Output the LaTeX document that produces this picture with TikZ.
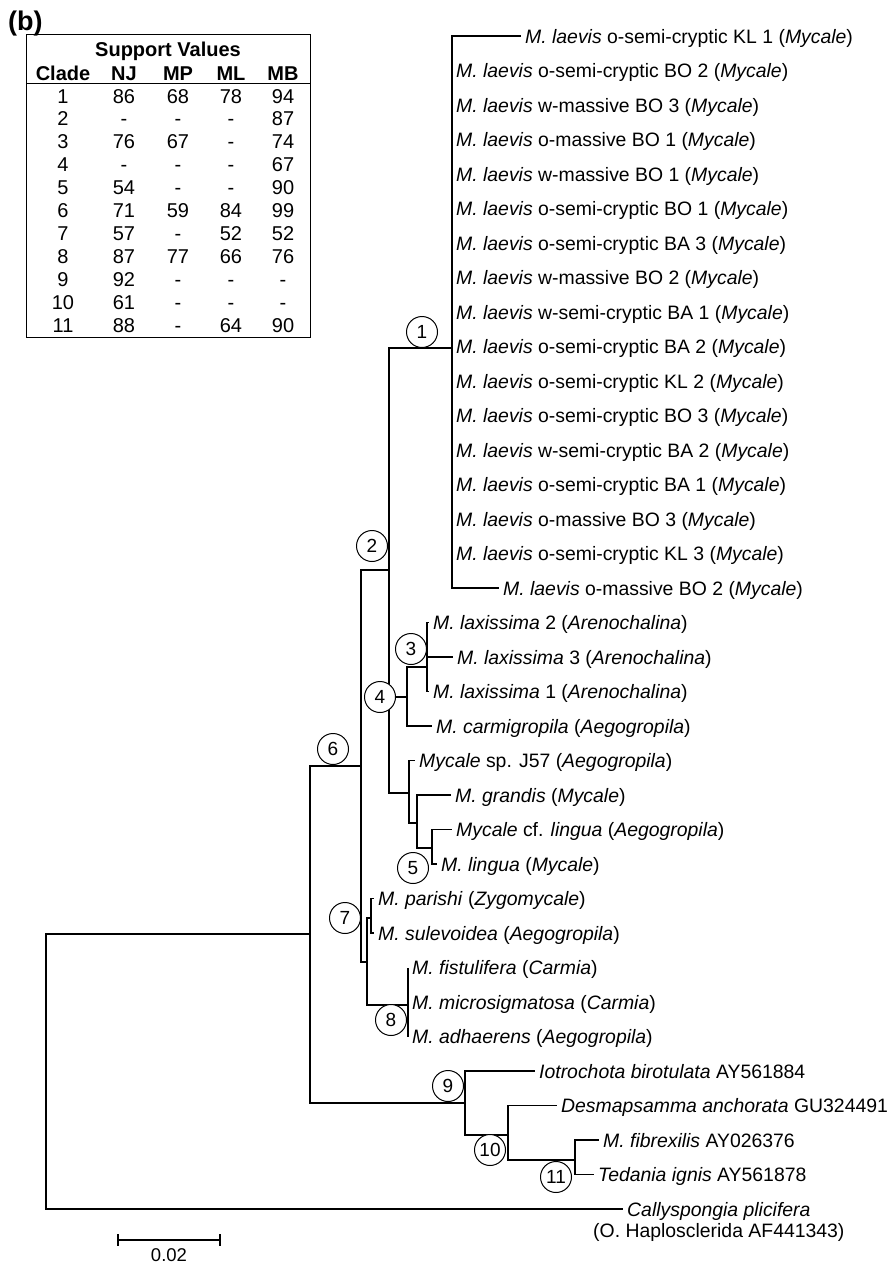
\documentclass[tikz,border=0pt]{standalone}
\usepackage{fontspec}
\setmainfont{Liberation Sans}
\usetikzlibrary{positioning}

\begin{document}
\begin{tikzpicture}[x=1pt, y=-1pt,
    branch/.style={line width=1.2pt},
    leaf/.style={anchor=west, inner xsep=4pt, inner ysep=0pt, text height=14pt, text depth=0pt, font=\fontsize{19.4}{23}\selectfont},
    clade/.style={circle, draw, fill=white, line width=1pt, minimum size=31pt, inner sep=0pt, font=\fontsize{19}{22}\selectfont},
    cell/.style={anchor=base, inner sep=0pt, font=\fontsize{20}{24}\selectfont},
    head/.style={cell, font=\fontsize{20}{24}\selectfont\bfseries}
]
\useasboundingbox (0,0) rectangle (890,1264);

% panel label and support table
\node[anchor=base west, inner sep=0pt, font=\fontsize{27}{30}\selectfont\bfseries] (panel) at (8,30) {(b)};
\node[draw, line width=1pt, anchor=north west, minimum width=284, minimum height=303, inner sep=0pt] (tbl) at (26,34) {};
\draw[line width=1pt] (tbl.west |- 0,83) -- (tbl.east |- 0,83);
\node[head] (title) at (168,56) {Support Values};
\node[head] (hclade) at (63,80) {Clade};
\node[head] (hnj) at (124,80) {NJ};
\node[head] (hmp) at (178,80) {MP};
\node[head] (hml) at (231,80) {ML};
\node[head] (hmb) at (283,80) {MB};
\foreach \c/\nj/\mp/\ml/\mb [count=\r from 0] in {1/86/68/78/94, 2/-/-/-/87, 3/76/67/-/74, 4/-/-/-/67, 5/54/-/-/90, 6/71/59/84/99, 7/57/-/52/52, 8/87/77/66/76, 9/92/-/-/-, 10/61/-/-/-, 11/88/-/64/90} {
  \node[cell] (c\c) at (63,{103+22.9*\r}) {\c};
  \node[cell] (nj\c) at (124,{103+22.9*\r}) {\nj};
  \node[cell] (mp\c) at (178,{103+22.9*\r}) {\mp};
  \node[cell] (ml\c) at (231,{103+22.9*\r}) {\ml};
  \node[cell] (mb\c) at (283,{103+22.9*\r}) {\mb};
}

% internal nodes of the tree
\coordinate (R) at (46,1070);
\coordinate (nA) at (310,934);
\coordinate (nB) at (361,766);
\coordinate (n2) at (389,570);
\coordinate (n1) at (452,348);
\coordinate (n4) at (407,697);
\coordinate (n3) at (427,667);
\coordinate (nD) at (409,793);
\coordinate (nE) at (417,823);
\coordinate (n5) at (432,848);
\coordinate (nC) at (367,962);
\coordinate (n7) at (371,918);
\coordinate (n8) at (408,1005);
\coordinate (n9) at (465,1103);
\coordinate (n10) at (508,1135);
\coordinate (n11) at (575,1160);

% clade 1
\foreach \k/\lab/\xe in {0/o-semi-cryptic KL 1/521, 1/o-semi-cryptic BO 2/452, 2/w-massive BO 3/452,
    3/o-massive BO 1/452, 4/w-massive BO 1/452, 5/o-semi-cryptic BO 1/452, 6/o-semi-cryptic BA 3/452,
    7/w-massive BO 2/452, 8/w-semi-cryptic BA 1/452, 9/o-semi-cryptic BA 2/452, 10/o-semi-cryptic KL 2/452,
    11/o-semi-cryptic BO 3/452, 12/w-semi-cryptic BA 2/452, 13/o-semi-cryptic BA 1/452, 14/o-massive BO 3/452,
    15/o-semi-cryptic KL 3/452, 16/o-massive BO 2/499} {
  \node[leaf] (lv\k) at (\xe,{36+34.5*\k}) {\textit{M. laevis} \lab{} (\textit{Mycale})};
  \draw[branch] (n1) |- (lv\k.west);
}

% other leaves
\node[leaf] (lax2) at (429,622.5) {\textit{M. laxissima} 2 (\textit{Arenochalina})};
\node[leaf] (lax3) at (453,657) {\textit{M. laxissima} 3 (\textit{Arenochalina})};
\node[leaf] (lax1) at (429,691.5) {\textit{M. laxissima} 1 (\textit{Arenochalina})};
\node[leaf] (carm) at (432,726) {\textit{M. carmigropila} (\textit{Aegogropila})};
\node[leaf] (j57) at (415,760.5) {\textit{Mycale} sp. J57 (\textit{Aegogropila})};
\node[leaf] (grand) at (451,795) {\textit{M. grandis} (\textit{Mycale})};
\node[leaf] (cfling) at (452,829.5) {\textit{Mycale} cf. \textit{lingua} (\textit{Aegogropila})};
\node[leaf] (ling) at (437,864) {\textit{M. lingua} (\textit{Mycale})};
\node[leaf] (paris) at (374,898.5) {\textit{M. parishi} (\textit{Zygomycale})};
\node[leaf] (sulev) at (374,933) {\textit{M. sulevoidea} (\textit{Aegogropila})};
\node[leaf] (fistu) at (408,967.5) {\textit{M. fistulifera} (\textit{Carmia})};
\node[leaf] (micro) at (408,1002) {\textit{M. microsigmatosa} (\textit{Carmia})};
\node[leaf] (adhae) at (408,1036.5) {\textit{M. adhaerens} (\textit{Aegogropila})};
\node[leaf] (iotro) at (535,1071) {\textit{Iotrochota birotulata} AY561884};
\node[leaf] (desma) at (557,1105.5) {\textit{Desmapsamma anchorata} GU324491};
\node[leaf] (fibre) at (599,1140) {\textit{M. fibrexilis} AY026376};
\node[leaf] (teda) at (594,1174.5) {\textit{Tedania ignis} AY561878};
\node[leaf] (cally) at (623,1209) {\textit{Callyspongia plicifera}};
\node[below=7pt of cally, inner sep=0pt, font=\fontsize{19.4}{23}\selectfont] (callyb) {(O. Haplosclerida AF441343)};

% branches
\draw[branch] (R) |- (nA);
\draw[branch] (R) |- (cally.west);
\draw[branch] (nA) |- (nB);
\draw[branch] (nA) |- (n9);
\draw[branch] (nB) |- (n2);
\draw[branch] (nB) |- (nC);
\draw[branch] (n2) |- (n1);
\draw[branch] (n2) |- (n4);
\draw[branch] (n2) |- (nD);
\draw[branch] (n4) |- (n3);
\draw[branch] (n4) |- (carm.west);
\draw[branch] (n3) |- (lax2.west);
\draw[branch] (n3) |- (lax3.west);
\draw[branch] (n3) |- (lax1.west);
\draw[branch] (nD) |- (j57.west);
\draw[branch] (nD) |- (nE);
\draw[branch] (nE) |- (grand.west);
\draw[branch] (nE) |- (n5);
\draw[branch] (n5) |- (cfling.west);
\draw[branch] (n5) |- (ling.west);
\draw[branch] (nC) |- (n7);
\draw[branch] (nC) |- (n8);
\draw[branch] (n7) |- (paris.west);
\draw[branch] (n7) |- (sulev.west);
\draw[branch] (n8) |- (fistu.west);
\draw[branch] (n8) |- (micro.west);
\draw[branch] (n8) |- (adhae.west);
\draw[branch] (n9) |- (iotro.west);
\draw[branch] (n9) |- (n10);
\draw[branch] (n10) |- (desma.west);
\draw[branch] (n10) |- (n11);
\draw[branch] (n11) |- (fibre.west);
\draw[branch] (n11) |- (teda.west);

% clade numbers
\node[clade] (k1) at (422,332) {1};
\node[clade] (k2) at (372,546) {2};
\node[clade] (k3) at (411,649) {3};
\node[clade] (k4) at (380,697) {4};
\node[clade] (k5) at (413,868) {5};
\node[clade] (k6) at (333,749) {6};
\node[clade] (k7) at (345,918) {7};
\node[clade] (k8) at (391,1020) {8};
\node[clade] (k9) at (448,1086) {9};
\node[clade] (k10) at (490,1150) {10};
\node[clade] (k11) at (556,1177) {11};

% scale bar
\coordinate (sb1) at (118,1240);
\coordinate (sb2) at (220,1240);
\draw[branch] (sb1) -- (sb2);
\draw[branch] ([yshift=6pt]sb1) -- ([yshift=-6pt]sb1);
\draw[branch] ([yshift=6pt]sb2) -- ([yshift=-6pt]sb2);
\node[inner sep=0pt, font=\fontsize{18.5}{22}\selectfont] (sblab) at (169,1255) {0.02};
\end{tikzpicture}
\end{document}
